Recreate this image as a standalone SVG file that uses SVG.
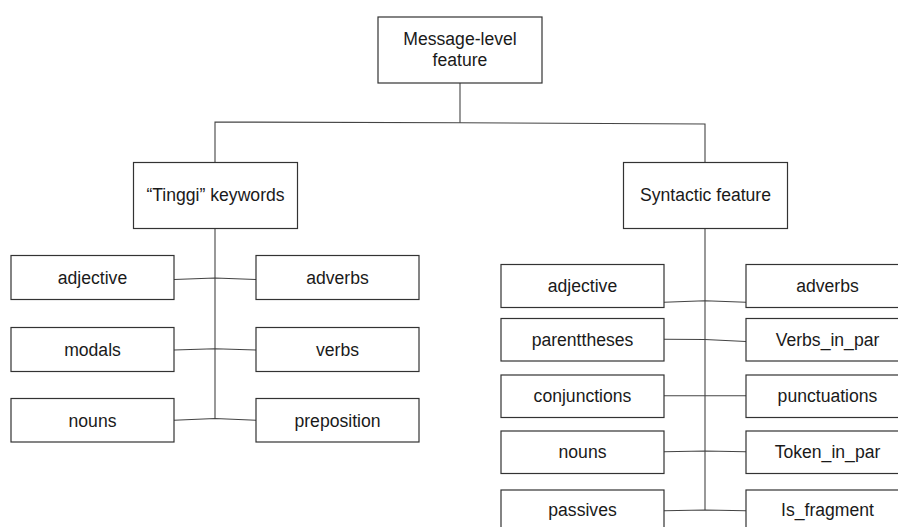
<svg xmlns="http://www.w3.org/2000/svg" width="898" height="527" viewBox="0 0 898 527">
  <style>
    .box { fill: #ffffff; stroke: #333333; stroke-width: 1.2; }
    .lbl { font-family: "Liberation Sans", Arial, sans-serif; font-size: 17.6px; fill: #1a1a1a; text-anchor: middle; }
    .wire { fill: none; stroke: #444444; stroke-width: 1.1; }
  </style>
  <rect width="898" height="527" fill="#ffffff"/>

  <!-- connectors -->
  <g id="connectors">
    <polyline class="wire" points="460,83 460,122.8"/>
    <polyline class="wire" points="215,162 215,122 460,122.8 705,124 705,162"/>
    <!-- left branch -->
    <polyline class="wire" points="215,228 215,418.5"/>
    <polyline class="wire" points="174,279.5 215,278 256,279.5"/>
    <polyline class="wire" points="174,350 215,348.7 256,350"/>
    <polyline class="wire" points="174,420.3 215,418.5 256,420.3"/>
    <!-- right branch -->
    <polyline class="wire" points="705,228 705,510"/>
    <polyline class="wire" points="664,302.3 705,300.7 746,302.3"/>
    <polyline class="wire" points="664,339.3 705,339.5 746,341.5"/>
    <polyline class="wire" points="664,395.7 705,395.7 746,395.7"/>
    <polyline class="wire" points="664,451.7 705,451 746,451.7"/>
    <polyline class="wire" points="664,510.7 705,510 746,510.7"/>
  </g>

  <!-- root -->
  <g id="message-level">
    <rect class="box" x="378" y="17" width="164" height="66"/>
    <text class="lbl" x="460" y="45">Message-level</text>
    <text class="lbl" x="460" y="66">feature</text>
  </g>

  <!-- second level -->
  <g id="tinggi-keywords">
    <rect class="box" x="133.5" y="162.5" width="164" height="66"/>
    <text class="lbl" x="215.5" y="201">“Tinggi” keywords</text>
  </g>
  <g id="syntactic-feature">
    <rect class="box" x="623.5" y="162.5" width="164" height="66"/>
    <text class="lbl" x="705.5" y="201">Syntactic feature</text>
  </g>

  <!-- keyword leaves -->
  <g id="kw-adjective">
    <rect class="box" x="11" y="255.5" width="163" height="44"/>
    <text class="lbl" x="92.5" y="283.5">adjective</text>
  </g>
  <g id="kw-adverbs">
    <rect class="box" x="256" y="255.5" width="163" height="44"/>
    <text class="lbl" x="337.5" y="283.5">adverbs</text>
  </g>
  <g id="kw-modals">
    <rect class="box" x="11" y="327.5" width="163" height="44"/>
    <text class="lbl" x="92.5" y="355.5">modals</text>
  </g>
  <g id="kw-verbs">
    <rect class="box" x="256" y="327.5" width="163" height="44"/>
    <text class="lbl" x="337.5" y="355.5">verbs</text>
  </g>
  <g id="kw-nouns">
    <rect class="box" x="11" y="398.5" width="163" height="43.5"/>
    <text class="lbl" x="92.5" y="426.5">nouns</text>
  </g>
  <g id="kw-preposition">
    <rect class="box" x="256" y="398.5" width="163" height="43.5"/>
    <text class="lbl" x="337.5" y="426.5">preposition</text>
  </g>

  <!-- syntactic leaves -->
  <g id="syn-adjective">
    <rect class="box" x="501" y="264.5" width="163" height="43"/>
    <text class="lbl" x="582.5" y="292">adjective</text>
  </g>
  <g id="syn-adverbs">
    <rect class="box" x="746" y="264.5" width="163" height="43"/>
    <text class="lbl" x="827.5" y="292">adverbs</text>
  </g>
  <g id="syn-parentheses">
    <rect class="box" x="501" y="318.5" width="163" height="42.5"/>
    <text class="lbl" x="582.5" y="346">parenttheses</text>
  </g>
  <g id="syn-verbs-in-par">
    <rect class="box" x="746" y="318.5" width="163" height="42.5"/>
    <text class="lbl" x="827.5" y="346">Verbs_in_par</text>
  </g>
  <g id="syn-conjunctions">
    <rect class="box" x="501" y="375" width="163" height="42.5"/>
    <text class="lbl" x="582.5" y="402">conjunctions</text>
  </g>
  <g id="syn-punctuations">
    <rect class="box" x="746" y="375" width="163" height="42.5"/>
    <text class="lbl" x="827.5" y="402">punctuations</text>
  </g>
  <g id="syn-nouns">
    <rect class="box" x="501" y="431" width="163" height="42.5"/>
    <text class="lbl" x="582.5" y="458">nouns</text>
  </g>
  <g id="syn-token-in-par">
    <rect class="box" x="746" y="431" width="163" height="42.5"/>
    <text class="lbl" x="827.5" y="458">Token_in_par</text>
  </g>
  <g id="syn-passives">
    <rect class="box" x="501" y="490" width="163" height="43"/>
    <text class="lbl" x="582.5" y="516">passives</text>
  </g>
  <g id="syn-is-fragment">
    <rect class="box" x="746" y="490" width="163" height="43"/>
    <text class="lbl" x="827.5" y="516">Is_fragment</text>
  </g>
</svg>
